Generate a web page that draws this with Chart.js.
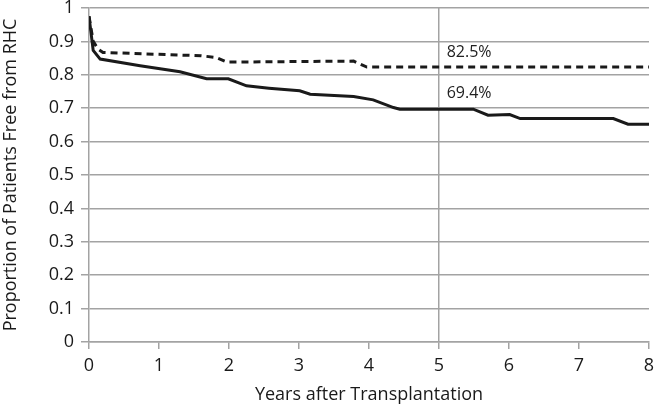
<!DOCTYPE html>
<html>
<head>
<meta charset="utf-8">
<script src="https://cdn.jsdelivr.net/npm/chart.js@4/dist/chart.umd.min.js"></script>
<style>
  html, body { margin: 0; padding: 0; background: #fff; }
  #wrap { width: 656px; height: 408px; }
</style>
</head>
<body>
<div id="wrap"><canvas id="myChart" width="656" height="408"></canvas></div>
<script>
// curve with solid line
const solidYears = [0, 0.06, 0.16, 0.73, 1.3, 1.68, 1.99, 2.25, 2.57, 3.01, 3.16, 3.78, 4.06, 4.35, 4.44, 5.49, 5.7, 6.01, 6.16, 7.49, 7.7, 8.0];
const solidValues = [0.975, 0.873, 0.847, 0.827, 0.809, 0.788, 0.788, 0.767, 0.76, 0.752, 0.742, 0.735, 0.725, 0.702, 0.697, 0.697, 0.679, 0.681, 0.669, 0.669, 0.652, 0.652];

// curve with dashed line
const dashedYears = [0, 0.06, 0.13, 0.2, 1.6, 1.81, 1.97, 3.78, 3.97, 8.0];
const dashedValues = [0.975, 0.9, 0.877, 0.867, 0.857, 0.852, 0.838, 0.841, 0.823, 0.823];

// text notes next to the 5 year line
const noteTexts = ["82.5%", "69.4%"];
const noteYears = [5.11, 5.11];
const noteValues = [0.867, 0.744];

const markedYear = 5;
const gridGray = "#a3a3a3";
const fontFamily = "'Open Sans', sans-serif";

function toPoints(xs, ys) {
  return xs.map((x, i) => ({ x: x, y: ys[i] }));
}

const notesPlugin = {
  id: "notes",
  afterDatasetsDraw(chart) {
    const ctx = chart.ctx;
    const xs = chart.scales.x;
    const ys = chart.scales.y;
    ctx.save();
    ctx.font = "16px " + fontFamily;
    ctx.fillStyle = "#222";
    ctx.textAlign = "left";
    ctx.textBaseline = "middle";
    noteTexts.forEach((t, i) => {
      ctx.fillText(t, xs.getPixelForValue(noteYears[i]), ys.getPixelForValue(noteValues[i]));
    });
    ctx.restore();
  },
};

const canvasChart = document.getElementById("myChart").getContext("2d");

new Chart(canvasChart, {
  type: "line",
  data: {
    datasets: [
      {
        label: "solid",
        data: toPoints(solidYears, solidValues),
        borderColor: "#1a1a1a",
        borderWidth: 3,
        pointRadius: 0,
        tension: 0,
        fill: false,
      },
      {
        label: "dashed",
        data: toPoints(dashedYears, dashedValues),
        borderColor: "#1a1a1a",
        borderWidth: 3,
        borderDash: [7, 5],
        pointRadius: 0,
        tension: 0,
        fill: false,
      },
    ],
  },
  options: {
    responsive: false,
    animation: false,
    layout: { padding: { top: 8, right: 7, bottom: 0, left: 0 } },
    plugins: {
      legend: { display: false },
      tooltip: { enabled: false },
    },
    scales: {
      x: {
        type: "linear",
        min: 0,
        max: 8,
        ticks: {
          stepSize: 1,
          color: "#1a1a1a",
          padding: 6,
          font: { family: fontFamily, size: 18 },
        },
        grid: {
          color: (c) => (c.tick && c.tick.value === markedYear ? gridGray : "transparent"),
          tickColor: gridGray,
          tickLength: 7,
          lineWidth: 1.5,
        },
        border: { color: gridGray, width: 1.5 },
        title: {
          display: true,
          text: "Years after Transplantation",
          color: "#1a1a1a",
          font: { family: fontFamily, size: 18 },
          padding: { top: 0, bottom: 2 },
        },
        afterFit(scale) {
          scale.height = 66;
          scale.paddingRight = 0;
          scale.paddingLeft = 0;
        },
      },
      y: {
        min: 0,
        max: 1,
        ticks: {
          stepSize: 0.1,
          color: "#1a1a1a",
          padding: 7,
          font: { family: fontFamily, size: 18, lineHeight: 1 },
          callback: (v) => (v === 0 || v === 1 ? String(v) : v.toFixed(1)),
        },
        grid: {
          color: gridGray,
          tickColor: gridGray,
          tickLength: 8,
          lineWidth: 1.5,
        },
        border: { color: gridGray, width: 1.5 },
        title: {
          display: true,
          text: "Proportion of Patients Free from RHC",
          color: "#1a1a1a",
          font: { family: fontFamily, size: 18 },
          padding: 0,
        },
        afterFit(scale) {
          scale.width = 89;
          scale.paddingTop = 0;
        },
      },
    },
  },
  plugins: [notesPlugin],
});
</script>
</body>
</html>
